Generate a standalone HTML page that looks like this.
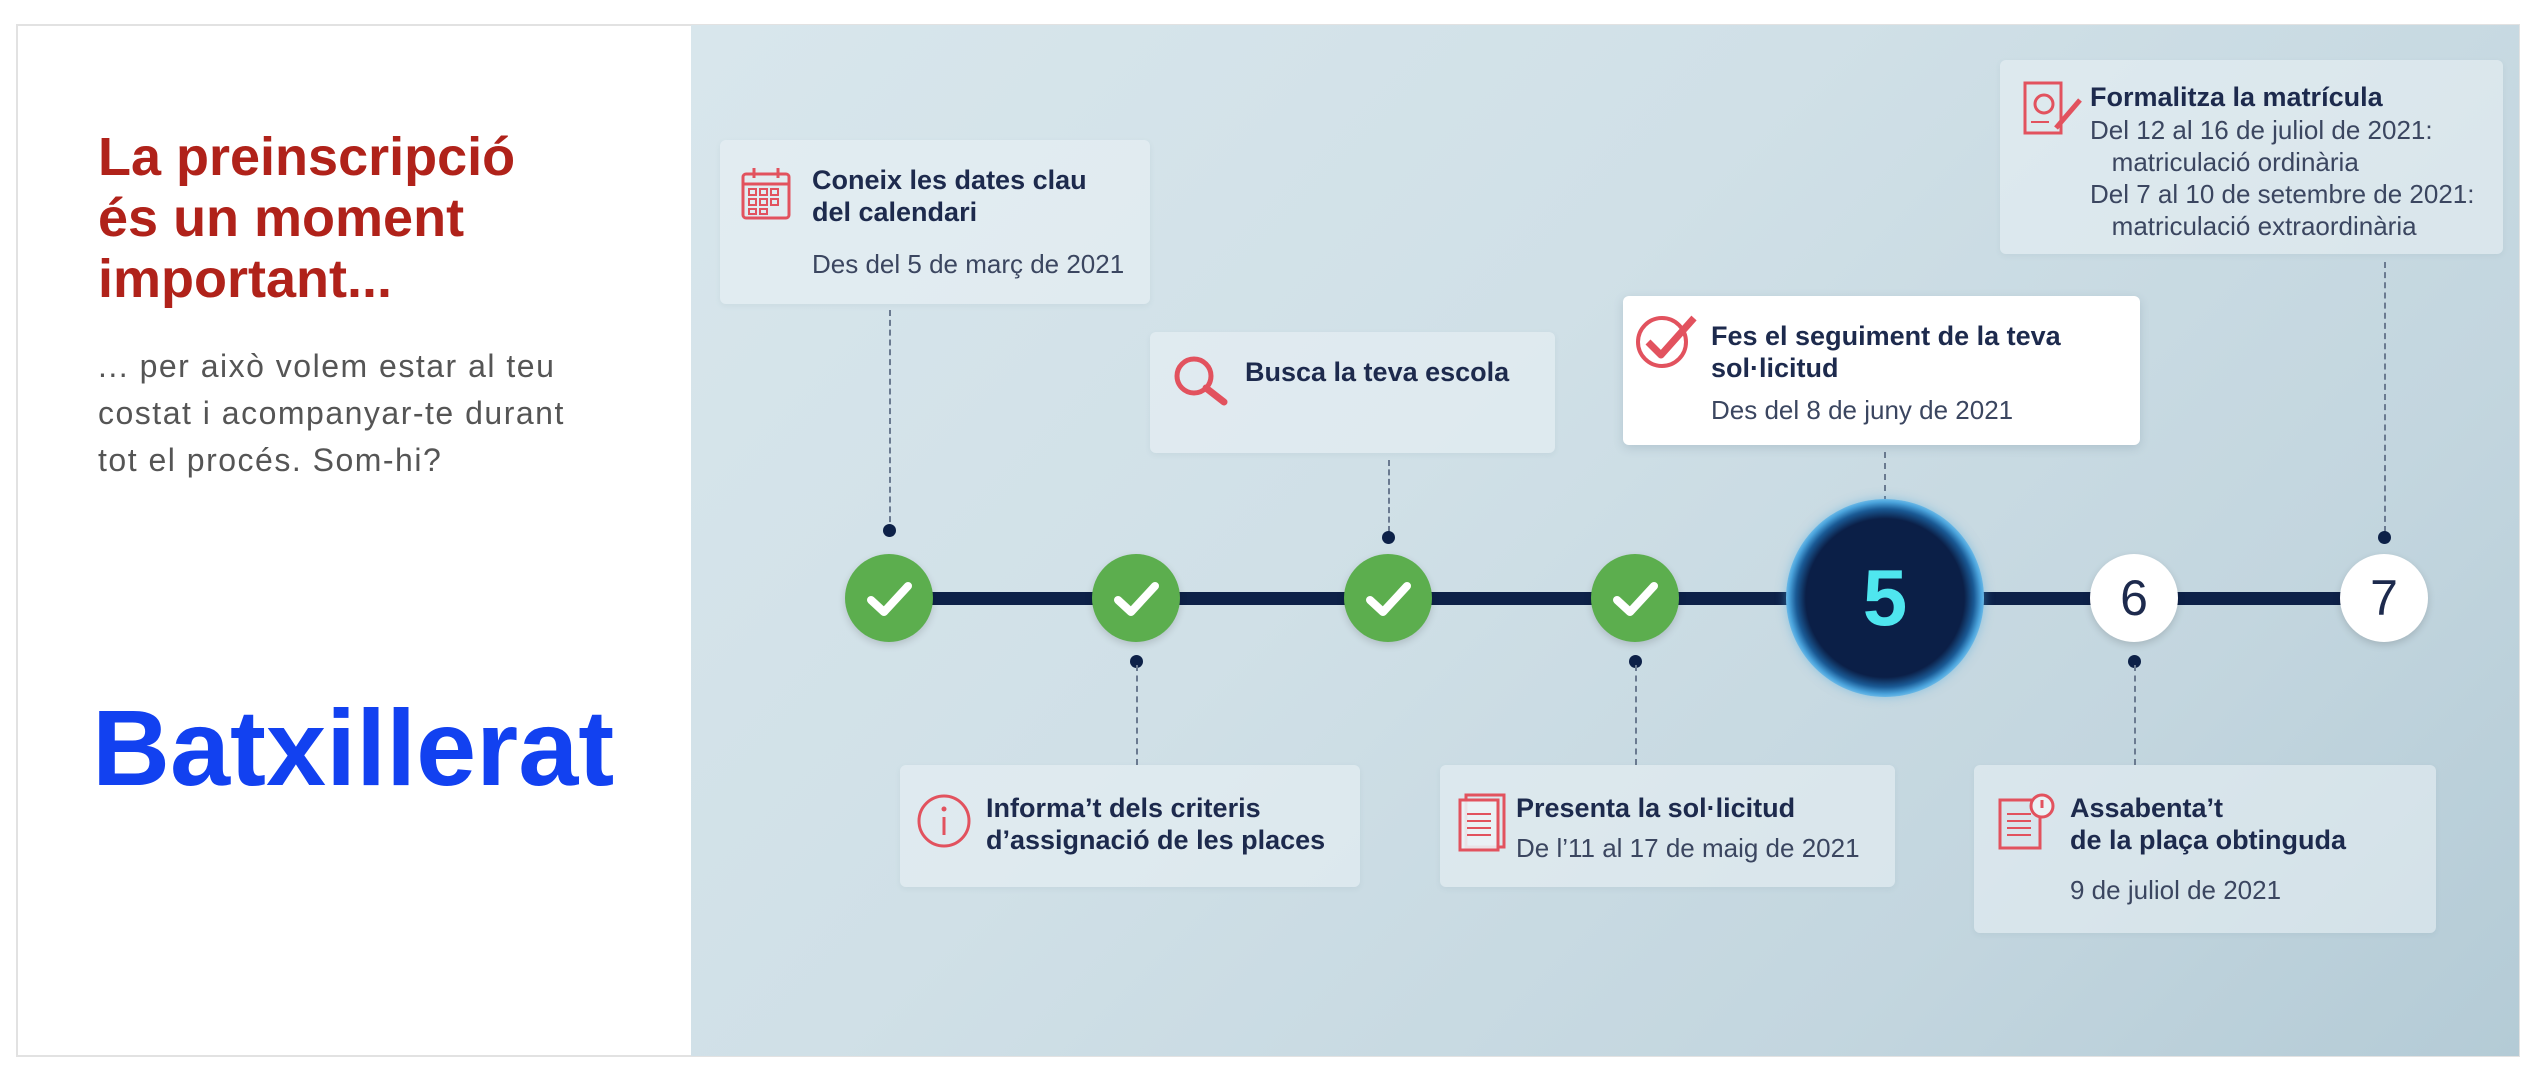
<!DOCTYPE html>
<html><head><meta charset="utf-8"><style>
*{margin:0;padding:0;box-sizing:border-box}
body{width:2548px;height:1070px;background:#fff;position:relative;overflow:hidden;font-family:"Liberation Sans",sans-serif}
.frame{position:absolute;left:16px;top:24px;width:2504px;height:1033px;border:2px solid #e2e2e2}
.panel{position:absolute;left:691px;top:25px;width:1828px;height:1031px;background:linear-gradient(135deg,#d8e6ec 0%,#d0e0e7 40%,#c3d6df 75%,#b4cbd6 100%)}
.a{position:absolute;white-space:nowrap}
.card{position:absolute;background:rgba(235,242,245,0.55);border-radius:6px;box-shadow:0 2px 6px rgba(80,110,130,0.08)}
.t{position:absolute;white-space:nowrap;font-weight:bold;color:#1d2a4d;font-size:27px;line-height:32px}
.d{position:absolute;white-space:nowrap;color:#3b4660;font-size:26px;line-height:32px}
.dash{position:absolute;width:0;border-left:2px dashed #6a7a90}
.dot{position:absolute;width:13px;height:13px;border-radius:50%;background:#0d2148}
.g{position:absolute;width:88px;height:88px;border-radius:50%;background:#5cae4e;box-shadow:0 3px 8px rgba(0,0,0,0.15)}
.w{position:absolute;width:88px;height:88px;border-radius:50%;background:#fff;color:#1d2a4d;font-size:50px;text-align:center;line-height:88px;box-shadow:0 3px 8px rgba(0,0,0,0.15)}
</style></head><body>
<div class="frame"></div>
<div class="a" style="left:98px;top:127px;color:#b0221a;font-size:54px;font-weight:bold;line-height:61px">La preinscripció<br>és un moment<br>important...</div>
<div class="a" style="left:98px;top:343px;color:#555;font-size:32px;letter-spacing:1.5px;line-height:47px">... per això volem estar al teu<br>costat i acompanyar-te durant<br>tot el procés. Som-hi?</div>
<div class="a" style="left:92px;top:688px;color:#1241f0;font-size:108px;font-weight:bold;line-height:120px">Batxillerat</div>
<div class="panel"></div>

<div class="a" style="left:889px;top:592px;width:1495px;height:13px;background:#0d2148"></div>

<div class="dash" style="left:889px;top:310px;height:222px"></div>
<div class="dot" style="left:883px;top:524px"></div>
<div class="dash" style="left:1388px;top:460px;height:72px"></div>
<div class="dot" style="left:1382px;top:531px"></div>
<div class="dash" style="left:1884px;top:452px;height:50px"></div>
<div class="dash" style="left:2384px;top:262px;height:270px"></div>
<div class="dot" style="left:2378px;top:531px"></div>
<div class="dot" style="left:1130px;top:655px"></div>
<div class="dash" style="left:1136px;top:665px;height:100px"></div>
<div class="dot" style="left:1629px;top:655px"></div>
<div class="dash" style="left:1635px;top:665px;height:100px"></div>
<div class="dot" style="left:2128px;top:655px"></div>
<div class="dash" style="left:2134px;top:665px;height:100px"></div>

<div class="g" style="left:845px;top:554px"></div>
<div class="g" style="left:1092px;top:554px"></div>
<div class="g" style="left:1344px;top:554px"></div>
<div class="g" style="left:1591px;top:554px"></div>
<svg class="a" style="left:845px;top:554px" width="88" height="88"><path d="M26 46 L39 58 L63 32" stroke="#fff" stroke-width="8" fill="none" stroke-linecap="round" stroke-linejoin="round"/></svg>
<svg class="a" style="left:1092px;top:554px" width="88" height="88"><path d="M26 46 L39 58 L63 32" stroke="#fff" stroke-width="8" fill="none" stroke-linecap="round" stroke-linejoin="round"/></svg>
<svg class="a" style="left:1344px;top:554px" width="88" height="88"><path d="M26 46 L39 58 L63 32" stroke="#fff" stroke-width="8" fill="none" stroke-linecap="round" stroke-linejoin="round"/></svg>
<svg class="a" style="left:1591px;top:554px" width="88" height="88"><path d="M26 46 L39 58 L63 32" stroke="#fff" stroke-width="8" fill="none" stroke-linecap="round" stroke-linejoin="round"/></svg>
<div class="a" style="left:1786px;top:499px;width:198px;height:198px;border-radius:50%;background:radial-gradient(circle closest-side,#0b1f47 0%,#0b1f47 80%,#1a5a95 90%,#4aa3dc 97%,#6ab8e6 100%);box-shadow:0 0 10px rgba(80,170,220,0.5);color:#4fe6ef;font-size:80px;font-weight:bold;text-align:center;line-height:198px">5</div>
<div class="w" style="left:2090px;top:554px">6</div>
<div class="w" style="left:2340px;top:554px">7</div>

<div class="card" style="left:720px;top:140px;width:430px;height:164px"></div>
<svg class="a" style="left:740px;top:166px" width="54" height="56"><rect x="3" y="8" width="46" height="44" rx="3" fill="none" stroke="#e2525e" stroke-width="3"/><line x1="3" y1="18" x2="49" y2="18" stroke="#e2525e" stroke-width="3"/><line x1="14" y1="2" x2="14" y2="12" stroke="#e2525e" stroke-width="3"/><line x1="38" y1="2" x2="38" y2="12" stroke="#e2525e" stroke-width="3"/><g fill="none" stroke="#e2525e" stroke-width="2"><rect x="9" y="23" width="7" height="6"/><rect x="20" y="23" width="7" height="6"/><rect x="31" y="23" width="7" height="6"/><rect x="9" y="33" width="7" height="6"/><rect x="20" y="33" width="7" height="6"/><rect x="31" y="33" width="7" height="6"/><rect x="9" y="43" width="7" height="5"/><rect x="20" y="43" width="7" height="5"/></g></svg>
<div class="t" style="left:812px;top:164px">Coneix les dates clau<br>del calendari</div>
<div class="d" style="left:812px;top:248px">Des del 5 de març de 2021</div>

<div class="card" style="left:1150px;top:332px;width:405px;height:121px"></div>
<svg class="a" style="left:1170px;top:352px" width="62" height="56"><circle cx="24" cy="24" r="17" fill="none" stroke="#e2525e" stroke-width="5"/><line x1="36" y1="36" x2="54" y2="50" stroke="#e2525e" stroke-width="7" stroke-linecap="round"/></svg>
<div class="t" style="left:1245px;top:356px">Busca la teva escola</div>

<div class="card" style="left:1623px;top:296px;width:517px;height:149px;background:#fff;box-shadow:0 3px 10px rgba(60,90,110,0.18)"></div>
<svg class="a" style="left:1634px;top:310px" width="66" height="62"><circle cx="28" cy="32" r="24" fill="none" stroke="#e2525e" stroke-width="4"/><path d="M14 32 L27 45 L60 8" stroke="#e2525e" stroke-width="7" fill="none" stroke-linejoin="round"/></svg>
<div class="t" style="left:1711px;top:320px">Fes el seguiment de la teva<br>sol·licitud</div>
<div class="d" style="left:1711px;top:394px">Des del 8 de juny de 2021</div>

<div class="card" style="left:2000px;top:60px;width:503px;height:194px"></div>
<svg class="a" style="left:2022px;top:80px" width="62" height="58"><rect x="3" y="3" width="36" height="50" fill="none" stroke="#e2525e" stroke-width="3"/><circle cx="22" cy="24" r="9" fill="none" stroke="#e2525e" stroke-width="3"/><line x1="34" y1="48" x2="58" y2="20" stroke="#e2525e" stroke-width="5"/><line x1="9" y1="42" x2="27" y2="42" stroke="#e2525e" stroke-width="2"/></svg>
<div class="t" style="left:2090px;top:81px">Formalitza la matrícula</div>
<div class="d" style="left:2090px;top:114px;line-height:32px">Del 12 al 16 de juliol de 2021:<br>&nbsp;&nbsp;&nbsp;matriculació ordinària<br>Del 7 al 10 de setembre de 2021:<br>&nbsp;&nbsp;&nbsp;matriculació extraordinària</div>

<div class="card" style="left:900px;top:765px;width:460px;height:122px"></div>
<svg class="a" style="left:916px;top:793px" width="56" height="56"><circle cx="28" cy="28" r="25" fill="none" stroke="#e2525e" stroke-width="3"/><line x1="28" y1="24" x2="28" y2="42" stroke="#e2525e" stroke-width="3"/><circle cx="28" cy="16" r="2.5" fill="#e2525e"/></svg>
<div class="t" style="left:986px;top:792px">Informa’t dels criteris<br>d’assignació de les places</div>

<div class="card" style="left:1440px;top:765px;width:455px;height:122px"></div>
<svg class="a" style="left:1458px;top:792px" width="50" height="60"><rect x="8" y="3" width="38" height="52" fill="none" stroke="#e2525e" stroke-width="3"/><rect x="2" y="8" width="38" height="50" fill="rgba(235,242,245,0.9)" stroke="#e2525e" stroke-width="3"/><g stroke="#e2525e" stroke-width="2"><line x1="9" y1="22" x2="33" y2="22"/><line x1="9" y1="29" x2="33" y2="29"/><line x1="9" y1="36" x2="33" y2="36"/><line x1="9" y1="43" x2="33" y2="43"/></g></svg>
<div class="t" style="left:1516px;top:792px">Presenta la sol·licitud</div>
<div class="d" style="left:1516px;top:832px">De l’11 al 17 de maig de 2021</div>

<div class="card" style="left:1974px;top:765px;width:462px;height:168px"></div>
<svg class="a" style="left:1998px;top:792px" width="58" height="60"><rect x="2" y="8" width="40" height="48" fill="none" stroke="#e2525e" stroke-width="3"/><g stroke="#e2525e" stroke-width="2"><line x1="9" y1="22" x2="33" y2="22"/><line x1="9" y1="29" x2="33" y2="29"/><line x1="9" y1="36" x2="33" y2="36"/><line x1="9" y1="43" x2="33" y2="43"/></g><circle cx="44" cy="14" r="11" fill="rgba(235,242,245,1)" stroke="#e2525e" stroke-width="3"/><line x1="44" y1="8" x2="44" y2="16" stroke="#e2525e" stroke-width="3"/></svg>
<div class="t" style="left:2070px;top:792px">Assabenta’t<br>de la plaça obtinguda</div>
<div class="d" style="left:2070px;top:874px">9 de juliol de 2021</div>
</body></html>
